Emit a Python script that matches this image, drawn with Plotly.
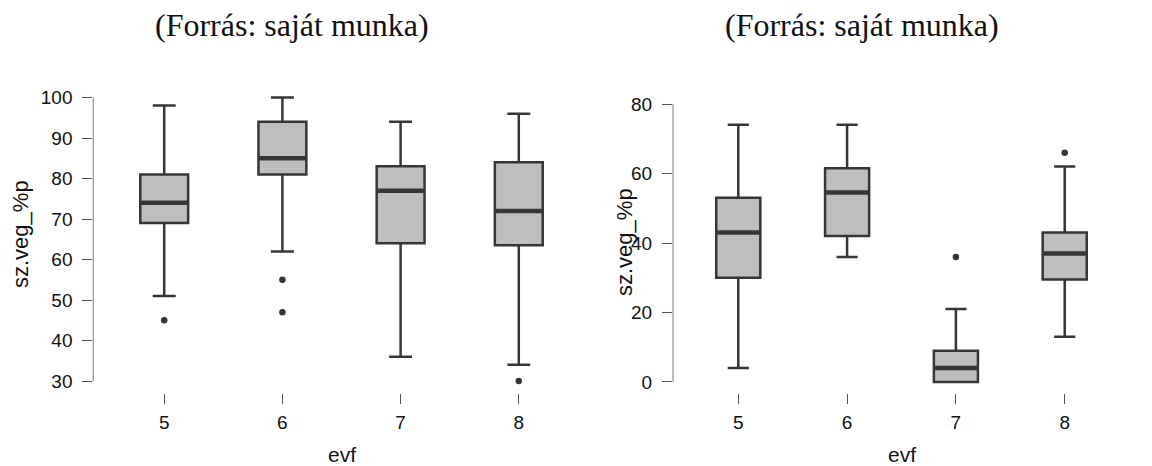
import plotly.graph_objects as go

categories = ["5", "6", "7", "8"]

# Left chart
left_q1 = [69, 81, 64, 63.5]
left_median = [74, 85, 77, 72]
left_q3 = [81, 94, 83, 84]
left_low = [51, 62, 36, 34]
left_high = [98, 100, 94, 96]
left_out_x = ["5", "6", "6", "8"]
left_out_y = [45, 55, 47, 30]
left_ticks = [30, 40, 50, 60, 70, 80, 90, 100]

# Right chart
right_q1 = [30, 42, 0, 29.5]
right_median = [43, 54.5, 4, 37]
right_q3 = [53, 61.5, 9, 43]
right_low = [4, 36, 0, 13]
right_high = [74, 74, 21, 62]
right_out_x = ["7", "8"]
right_out_y = [36, 66]
right_ticks = [0, 20, 40, 60, 80]

title_text = "(Forrás: saját munka)"
y_title = "sz.veg_%p"
x_title = "evf"

W, H = 1152, 466
FILL = "#bebebe"
LINE = "#363636"
FONT = "Liberation Sans, Arial, sans-serif"

fig = go.Figure()

def add_panel(xa, ya, q1, med, q3, lo, hi, ox, oy, medsize):
    fig.add_trace(go.Box(
        x=categories, q1=q1, median=med, q3=q3, lowerfence=lo, upperfence=hi,
        fillcolor=FILL, line=dict(color=LINE, width=2.5), whiskerwidth=0.48,
        boxpoints=False, xaxis=xa, yaxis=ya, showlegend=False, hoverinfo="skip"))
    fig.add_trace(go.Scatter(
        x=categories, y=med, mode="markers", xaxis=xa, yaxis=ya,
        marker=dict(symbol="line-ew", size=medsize, color=LINE,
                    line=dict(width=4.5, color=LINE)),
        showlegend=False, hoverinfo="skip"))
    fig.add_trace(go.Scatter(
        x=ox, y=oy, mode="markers", xaxis=xa, yaxis=ya,
        marker=dict(size=6.5, color=LINE), showlegend=False, hoverinfo="skip"))

# line-ew symbol spans 1.4 * size px
add_panel("x", "y", left_q1, left_median, left_q3, left_low, left_high,
          left_out_x, left_out_y, 46 / 1.4)
add_panel("x2", "y2", right_q1, right_median, right_q3, right_low, right_high,
          right_out_x, right_out_y, 42 / 1.4)

ydom = [1 - 393 / H, 1 - 85 / H]
left_range = [27.04, 103.09]
right_range = [-3.17, 85.47]
xrange_ = [-0.6, 3.6]

xcommon = dict(type="category", categoryorder="array", categoryarray=categories,
               range=xrange_, showline=False, showgrid=False, zeroline=False,
               ticks="outside", ticklen=10, tickwidth=1.3, tickcolor="#555555",
               tickfont=dict(family=FONT, size=19, color="#111111"),
               ticklabelstandoff=2)
ycommon = dict(showline=False, showgrid=False, zeroline=False,
               ticks="outside", ticklen=10, tickwidth=1.3, tickcolor="#555555",
               tickfont=dict(family=FONT, size=19, color="#111111"),
               ticklabelstandoff=6)

fig.update_layout(
    width=W, height=H,
    margin=dict(l=0, r=0, t=0, b=0),
    paper_bgcolor="white", plot_bgcolor="white",
    boxgap=0.595, boxgroupgap=0,
    xaxis=dict(domain=[93.3 / W, 589.7 / W], anchor="y", **xcommon),
    yaxis=dict(domain=ydom, anchor="x", range=left_range,
               tickmode="array", tickvals=left_ticks, **ycommon),
    xaxis2=dict(domain=[673 / W, 1130 / W], anchor="y2", **xcommon),
    yaxis2=dict(domain=ydom, anchor="x2", range=right_range,
                tickmode="array", tickvals=right_ticks, **ycommon),
)

def frac(v, r):
    return (v - r[0]) / (r[1] - r[0])

# R-style y axis lines spanning only the tick range
for xr, yr, ticks, rng in [("x domain", "y domain", left_ticks, left_range),
                           ("x2 domain", "y2 domain", right_ticks, right_range)]:
    fig.add_shape(type="line", xref=xr, yref=yr, x0=0, x1=0,
                  y0=frac(min(ticks), rng), y1=frac(max(ticks), rng),
                  line=dict(color="#999999", width=1.3))

ann = []
for cx, ty, ylx, yly in [(292, 25, 20, 234), (862, 25, 625, 242)]:
    ann.append(dict(text=title_text, x=cx / W, y=1 - ty / H, xref="paper", yref="paper",
                    showarrow=False, xanchor="center", yanchor="middle",
                    font=dict(family="Liberation Serif, Times New Roman, serif",
                              size=32, color="#111111")))
    ann.append(dict(text=y_title, x=ylx / W, y=1 - yly / H, xref="paper", yref="paper",
                    showarrow=False, xanchor="center", yanchor="middle", textangle=-90,
                    font=dict(family=FONT, size=22, color="#111111")))
for cx in [341.5, 901.5]:
    ann.append(dict(text=x_title, x=cx / W, y=1 - 454 / H, xref="paper", yref="paper",
                    showarrow=False, xanchor="center", yanchor="middle",
                    font=dict(family=FONT, size=21, color="#111111")))
fig.update_layout(annotations=ann)

fig.write_html("out.html", config={"displayModeBar": False},
               post_script="document.body.style.margin='0';document.body.style.padding='0';")
